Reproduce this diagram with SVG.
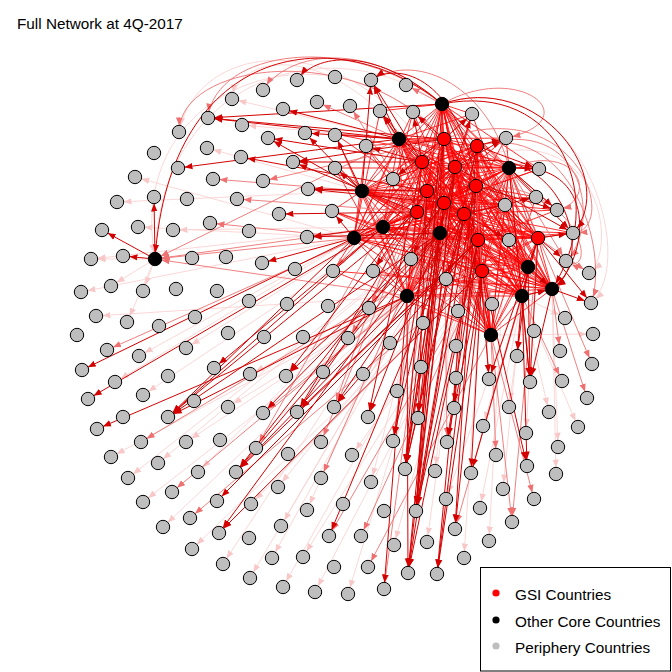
<svg xmlns="http://www.w3.org/2000/svg" width="672" height="672" viewBox="0 0 672 672">
<style>
.s{stroke:#D40000;stroke-width:1;fill:none;marker-end:url(#ms)}
.m{stroke:#EE7070;stroke-width:0.9;fill:none;marker-end:url(#mm)}
.f{stroke:#FAD2D2;stroke-width:0.9;fill:none;marker-end:url(#mf)}
.mesh{stroke:#FF0000;stroke-width:1;fill:none;stroke-opacity:0.8}
.p{fill:#BEBEBE;stroke:#000;stroke-width:1;r:6.7px}
.k{fill:#000;stroke:#000;stroke-width:1;r:6.7px}
.g{fill:#FF0000;stroke:#000;stroke-width:1;r:6.7px}
.t{font-family:"Liberation Sans",Arial,sans-serif;font-size:15.3px;fill:#000}
</style>
<defs>
<marker id="ms" viewBox="0 0 8 8" markerUnits="userSpaceOnUse" markerWidth="8" markerHeight="8" refX="14.5" refY="4" orient="auto"><path d="M0 0.8L8 4L0 7.2z" fill="#D40000"/></marker>
<marker id="mm" viewBox="0 0 8 8" markerUnits="userSpaceOnUse" markerWidth="8" markerHeight="8" refX="14.5" refY="4" orient="auto"><path d="M0 0.8L8 4L0 7.2z" fill="#EE7070"/></marker>
<marker id="mf" viewBox="0 0 8 8" markerUnits="userSpaceOnUse" markerWidth="8" markerHeight="8" refX="14.5" refY="4" orient="auto"><path d="M0 0.8L8 4L0 7.2z" fill="#F8C8C8"/></marker>
</defs>
<rect width="672" height="672" fill="#fff"/>
<text class="t" x="17" y="29">Full Network at 4Q-2017</text>
<g id="connectors">
<path class="f" d="M354 238L135 177"/><path class="f" d="M362 191L117 202"/><path class="f" d="M383 227L91 259"/><path class="f" d="M354 238L81 292"/><path class="f" d="M407 296L96 316"/><path class="f" d="M354 238L115 382"/><path class="f" d="M407 296L111 457"/><path class="f" d="M440 233L128 478"/><path class="f" d="M478 240L143 502"/><path class="f" d="M407 296L163 527"/><path class="f" d="M482 271L192 549"/><path class="f" d="M440 233L223 564"/><path class="f" d="M464 214L250 578"/><path class="f" d="M478 240L283 587"/><path class="f" d="M482 271L315 592"/><path class="f" d="M464 214L348 594"/><path class="f" d="M491 335L593 334"/><path class="f" d="M522 296L578 427"/><path class="f" d="M552 289L558 447"/><path class="f" d="M552 289L556 474"/><path class="f" d="M522 296L549 412"/><path class="f" d="M522 296L565 318"/><path class="f" d="M399 139L232 99"/><path class="f" d="M399 139L242 125"/><path class="f" d="M362 191L207 148"/><path class="f" d="M354 238L138 227"/><path class="f" d="M383 227L173 230"/><path class="f" d="M155 259L111 286"/><path class="f" d="M155 259L143 291"/><path class="f" d="M155 259L127 322"/><path class="f" d="M155 259L91 259"/><path class="f" d="M417 212L143 395"/><path class="f" d="M407 296L186 442"/><path class="f" d="M440 233L198 472"/><path class="f" d="M464 214L272 558"/><path class="f" d="M482 271L303 557"/><path class="f" d="M478 240L394 545"/><path class="f" d="M476 186L427 542"/><path class="f" d="M509 168L489 541"/><path class="f" d="M522 296L503 489"/><path class="f" d="M528 267L480 508"/><path class="f" d="M538 238L526 433"/><path class="f" d="M444 203L371 482"/><path class="f" d="M482 271L352 455"/><path class="f" d="M464 214L435 471"/><path class="f" d="M482 271L464 558"/><path class="f" d="M407 296L250 374"/><path class="f" d="M383 227L186 348"/><path class="f" d="M354 238L139 356"/><path class="f" d="M407 296L228 407"/><path class="f" d="M440 233L158 463"/><path class="f" d="M478 240L278 487"/><path class="f" d="M444 203L307 510"/><path class="f" d="M482 271L251 504"/><path class="f" d="M464 214L281 526"/><path class="f" d="M538 238L446 499"/><path class="f" d="M538 238L483 426"/><path class="f" d="M528 267L509 407"/><path class="f" d="M477 146C400 20 160 40 155 259"/><path class="f" d="M455 167C380 10 120 60 155 259"/><path class="f" d="M442 104C580 60 640 260 591 303"/><path class="f" d="M455 167C600 100 620 250 589 273"/><path class="f" d="M464 214C380 20 200 30 179 132"/><path class="f" d="M422 162C340 40 240 50 232 99"/>
<path class="mesh" d="M505 205L444 139 477 146 491 335 422 162 552 289 455 167 522 296 427 191 407 296 476 186 528 267 444 203 440 233 417 212 354 238 464 214 383 227 478 240 362 191 538 238 509 168 482 271 399 139 442 104 505 205 477 146 422 162 444 139 455 167 491 335 427 191 552 289 476 186 522 296 444 203 407 296 417 212 528 267 464 214 440 233 478 240 354 238 538 238 383 227 482 271 362 191 442 104 509 168 399 139 505 205 422 162 455 167 477 146 427 191 444 139 476 186 491 335 444 203 552 289 417 212 522 296 464 214 407 296 478 240 528 267 538 238 440 233 482 271 354 238 442 104 383 227 399 139 362 191 509 168 505 205 455 167 427 191 422 162 476 186 477 146 444 203 444 139 417 212 491 335 464 214 552 289 478 240 522 296 538 238 407 296 482 271 528 267 442 104 440 233 399 139 354 238 509 168 383 227 362 191 505 205 427 191 476 186 455 167 444 203 422 162 417 212 477 146 464 214 444 139 478 240 491 335 538 238 552 289 482 271 522 296 442 104 407 296 399 139 528 267 509 168 440 233 362 191 354 238 383 227 505 205 476 186 444 203 427 191 417 212 455 167 464 214 422 162 478 240 477 146 538 238 444 139 482 271 491 335 442 104 552 289 399 139 522 296 509 168 407 296 362 191 528 267 383 227 440 233 354 238 505 205"/>
<path class="mesh" d="M505 205L444 203 417 212 476 186 464 214 427 191 478 240 455 167 538 238 422 162 482 271 477 146 442 104 444 139 399 139 491 335 509 168 552 289 362 191 522 296 383 227 407 296 354 238 528 267 440 233 505 205 417 212 464 214 444 203 478 240 476 186 538 238 427 191 482 271 455 167 442 104 422 162 399 139 477 146 509 168 444 139 362 191 491 335 383 227 552 289 354 238 522 296 440 233 407 296 528 267 505 205 464 214 478 240 417 212 538 238 444 203 482 271 476 186 442 104 427 191 399 139 455 167 509 168 422 162 362 191 477 146 383 227 444 139 354 238 491 335 440 233 552 289 528 267 522 296 407 296 505 205 478 240 538 238 464 214 482 271 417 212 442 104 444 203 399 139 476 186 509 168 427 191 362 191 455 167 383 227 422 162 354 238 477 146 440 233 444 139 528 267 491 335 407 296 552 289 522 296 505 205 538 238 482 271 478 240 442 104 464 214 399 139 417 212 509 168 444 203 362 191 476 186 383 227 427 191 354 238 455 167 440 233 422 162 528 267 477 146 407 296 444 139 522 296 491 335 552 289 505 205 482 271 442 104 538 238 399 139 478 240 509 168 464 214 362 191 417 212 383 227 444 203 354 238 476 186 440 233 427 191 528 267 455 167 407 296 422 162 522 296 477 146 552 289 444 139 491 335 505 205"/>
<path class="mesh" d="M366 146L444 139 393 179 477 146 411 259 422 162 373 271 455 167 446 279 427 191 509 240 476 186 536 197 444 203 539 169 417 212 506 138 464 214 557 210 478 240 573 233 538 238 413 112 482 271 380 111 442 104 472 114 399 139 335 134 509 168 335 168 362 191 332 211 383 227 333 271 354 238 366 146 440 233 393 179 528 267 411 259 407 296 373 271 522 296 446 279 552 289 509 240 491 335 536 197 442 104 539 169 399 139 506 138 509 168 557 210 362 191 573 233 383 227 413 112 354 238 380 111 440 233 472 114 528 267 335 134 407 296 335 168 522 296 332 211 552 289 333 271 491 335 366 146"/>
<path class="m" d="M444 203L321 478"/><path class="m" d="M482 271L190 518"/><path class="m" d="M407 296L172 492"/><path class="m" d="M478 240L141 442"/><path class="m" d="M383 227L107 350"/><path class="m" d="M538 238L512 522"/><path class="m" d="M552 289L560 351"/><path class="m" d="M552 289L587 398"/><path class="m" d="M491 335L496 455"/><path class="m" d="M442 104L406 85"/><path class="m" d="M399 139L317 102"/><path class="m" d="M362 191L213 179"/><path class="m" d="M444 139L263 181"/><path class="m" d="M417 212L237 199"/><path class="m" d="M354 238L210 223"/><path class="m" d="M354 238L155 259"/><path class="m" d="M383 227L155 259"/><path class="m" d="M407 296L155 259"/><path class="m" d="M399 139L155 259"/><path class="m" d="M482 271L329 536"/><path class="m" d="M522 296L455 529"/><path class="m" d="M538 238L589 273"/><path class="m" d="M509 168L566 261"/><path class="m" d="M491 335L534 499"/><path class="m" d="M491 335L512 522"/><path class="m" d="M464 214L454 408"/><path class="m" d="M476 186L489 379"/><path class="m" d="M455 167L418 418"/><path class="m" d="M427 191L393 441"/><path class="m" d="M444 203L447 442"/><path class="m" d="M422 162L334 407"/><path class="m" d="M417 212L321 442"/><path class="m" d="M407 296L263 413"/><path class="m" d="M383 227L256 448"/><path class="m" d="M491 335L368 567"/><path class="m" d="M482 271L361 536"/><path class="m" d="M444 139L384 589"/><path class="m" d="M522 296L562 381"/><path class="m" d="M509 168L592 364"/><path class="m" d="M417 212L350 106"/><path class="m" d="M444 139L333 271"/><path class="m" d="M427 191L369 308"/><path class="m" d="M478 240L458 311"/><path class="m" d="M482 271L492 304"/><path class="m" d="M509 168L423 323"/><path class="m" d="M444 203L348 338"/><path class="m" d="M442 104C350 30 215 50 208 118"/><path class="m" d="M444 139C360 40 180 60 179 132"/><path class="m" d="M442 104C370 40 290 50 263 90"/><path class="m" d="M509 168C490 90 420 50 371 80"/><path class="m" d="M477 146C590 110 600 230 566 261"/><path class="m" d="M444 139C580 90 620 230 573 233"/><path class="m" d="M477 146C570 120 610 250 591 303"/><path class="m" d="M509 168C580 140 600 200 557 210"/><path class="m" d="M476 186C580 180 600 280 566 261"/><path class="m" d="M442 104C520 60 590 120 506 138"/>
<path class="s" d="M444 139L208 118"/><path class="s" d="M399 139L208 118"/><path class="s" d="M442 104L208 118"/><path class="s" d="M422 162L268 138"/><path class="s" d="M362 191L268 138"/><path class="s" d="M427 191L241 157"/><path class="s" d="M444 139L293 162"/><path class="s" d="M422 162L293 162"/><path class="s" d="M417 212L293 162"/><path class="s" d="M399 139L178 168"/><path class="s" d="M427 191L308 189"/><path class="s" d="M444 203L308 189"/><path class="s" d="M362 191L308 189"/><path class="s" d="M417 212L279 214"/><path class="s" d="M440 233L307 237"/><path class="s" d="M383 227L307 237"/><path class="s" d="M354 238L262 263"/><path class="s" d="M155 259L102 230"/><path class="s" d="M155 259L123 256"/><path class="s" d="M155 259L154 197"/><path class="s" d="M354 238L82 370"/><path class="s" d="M383 227L88 399"/><path class="s" d="M407 296L97 429"/><path class="s" d="M417 212L168 417"/><path class="s" d="M383 227L168 417"/><path class="s" d="M440 233L168 417"/><path class="s" d="M407 296L168 417"/><path class="s" d="M354 238L168 417"/><path class="s" d="M383 227L214 368"/><path class="s" d="M427 191L286 376"/><path class="s" d="M440 233L286 376"/><path class="s" d="M440 233L263 413"/><path class="s" d="M478 240L297 412"/><path class="s" d="M444 203L297 412"/><path class="s" d="M417 212L297 412"/><path class="s" d="M464 214L334 407"/><path class="s" d="M478 240L334 407"/><path class="s" d="M440 233L236 472"/><path class="s" d="M444 203L236 472"/><path class="s" d="M478 240L236 472"/><path class="s" d="M407 296L236 472"/><path class="s" d="M478 240L217 501"/><path class="s" d="M482 271L219 533"/><path class="s" d="M440 233L219 533"/><path class="s" d="M464 214L329 536"/><path class="s" d="M422 162L368 417"/><path class="s" d="M440 233L368 417"/><path class="s" d="M444 139L393 441"/><path class="s" d="M455 167L393 441"/><path class="s" d="M444 139L405 469"/><path class="s" d="M477 146L405 469"/><path class="s" d="M455 167L405 469"/><path class="s" d="M444 203L405 469"/><path class="s" d="M464 214L405 469"/><path class="s" d="M440 233L405 469"/><path class="s" d="M427 191L405 469"/><path class="s" d="M478 240L447 442"/><path class="s" d="M482 271L447 442"/><path class="s" d="M482 271L471 473"/><path class="s" d="M538 238L471 473"/><path class="s" d="M444 139L416 511"/><path class="s" d="M455 167L416 511"/><path class="s" d="M476 186L416 511"/><path class="s" d="M464 214L416 511"/><path class="s" d="M478 240L416 511"/><path class="s" d="M442 104L416 511"/><path class="s" d="M444 203L416 511"/><path class="s" d="M482 271L455 529"/><path class="s" d="M476 186L455 529"/><path class="s" d="M455 167L408 573"/><path class="s" d="M464 214L408 573"/><path class="s" d="M440 233L408 573"/><path class="s" d="M407 296L408 573"/><path class="s" d="M478 240L408 573"/><path class="s" d="M478 240L437 574"/><path class="s" d="M482 271L437 574"/><path class="s" d="M477 146L437 574"/><path class="s" d="M427 191L418 418"/><path class="s" d="M444 203L418 418"/><path class="s" d="M538 238L489 379"/><path class="s" d="M478 240L489 379"/><path class="s" d="M522 296L530 382"/><path class="s" d="M552 289L530 382"/><path class="s" d="M528 267L530 382"/><path class="s" d="M538 238L530 382"/><path class="s" d="M509 168L530 382"/><path class="s" d="M522 296L527 466"/><path class="s" d="M482 271L527 466"/><path class="s" d="M522 296L517 356"/><path class="s" d="M528 267L517 356"/><path class="s" d="M476 186L454 408"/><path class="s" d="M509 168L573 233"/><path class="s" d="M538 238L573 233"/><path class="s" d="M455 167L573 233"/><path class="s" d="M538 238L566 261"/><path class="s" d="M509 168L557 210"/><path class="s" d="M476 186L557 210"/><path class="s" d="M509 168L539 169"/><path class="s" d="M477 146L539 169"/><path class="s" d="M477 146L506 138"/><path class="s" d="M455 167L506 138"/><path class="s" d="M552 289L591 303"/><path class="s" d="M538 238L591 303"/><path class="s" d="M444 139L472 114"/><path class="s" d="M455 167L472 114"/><path class="s" d="M444 139L413 112"/><path class="s" d="M422 162L413 112"/><path class="s" d="M399 139L380 111"/><path class="s" d="M422 162L380 111"/><path class="s" d="M399 139L371 80"/><path class="s" d="M362 191L371 80"/><path class="s" d="M422 162L371 80"/><path class="s" d="M399 139L283 109"/><path class="s" d="M362 191L305 133"/><path class="s" d="M399 139L305 133"/><path class="s" d="M362 191L335 168"/><path class="s" d="M354 238L332 211"/><path class="s" d="M362 191L335 135"/><path class="s" d="M407 296L384 589"/><path class="s" d="M528 267L552 289"/><path class="s" d="M522 296L552 289"/><path class="s" d="M444 139L393 179"/><path class="s" d="M422 162L366 146"/><path class="s" d="M455 167L411 259"/><path class="s" d="M476 186L446 279"/><path class="s" d="M427 191L373 271"/><path class="s" d="M444 203L509 240"/><path class="s" d="M464 214L536 197"/><path class="s" d="M442 104C340 20 170 40 155 259"/><path class="s" d="M442 104C380 50 320 50 297 80"/><path class="s" d="M476 186C460 80 400 60 371 80"/><path class="s" d="M442 104C560 80 610 200 552 289"/><path class="s" d="M509 168C600 160 590 260 552 289"/><path class="s" d="M442 104C540 70 620 180 573 233"/><path class="s" d="M455 167C560 130 600 260 552 289"/>
</g>
<g id="nodes">
<g id="n1"><circle class="p" cx="297" cy="80"/></g><g id="n2"><circle class="p" cx="335" cy="77"/></g><g id="n3"><circle class="p" cx="263" cy="90"/></g><g id="n4"><circle class="p" cx="232" cy="99"/></g><g id="n5"><circle class="p" cx="317" cy="102"/></g><g id="n6"><circle class="p" cx="283" cy="109"/></g><g id="n7"><circle class="p" cx="208" cy="118"/></g><g id="n8"><circle class="p" cx="242" cy="125"/></g><g id="n9"><circle class="p" cx="179" cy="132"/></g><g id="n10"><circle class="p" cx="305" cy="133"/></g>
<g id="n11"><circle class="p" cx="335" cy="135"/></g><g id="n12"><circle class="p" cx="268" cy="138"/></g><g id="n13"><circle class="p" cx="207" cy="148"/></g><g id="n14"><circle class="p" cx="154" cy="153"/></g><g id="n15"><circle class="p" cx="241" cy="157"/></g><g id="n16"><circle class="p" cx="293" cy="162"/></g><g id="n17"><circle class="p" cx="178" cy="168"/></g><g id="n18"><circle class="p" cx="335" cy="168"/></g><g id="n19"><circle class="p" cx="135" cy="177"/></g><g id="n20"><circle class="p" cx="213" cy="179"/></g>
<g id="n21"><circle class="p" cx="263" cy="181"/></g><g id="n22"><circle class="p" cx="308" cy="189"/></g><g id="n23"><circle class="p" cx="117" cy="202"/></g><g id="n24"><circle class="p" cx="154" cy="197"/></g><g id="n25"><circle class="p" cx="187" cy="199"/></g><g id="n26"><circle class="p" cx="237" cy="199"/></g><g id="n27"><circle class="p" cx="332" cy="211"/></g><g id="n28"><circle class="p" cx="279" cy="214"/></g><g id="n29"><circle class="p" cx="102" cy="230"/></g><g id="n30"><circle class="p" cx="138" cy="227"/></g>
<g id="n31"><circle class="p" cx="173" cy="230"/></g><g id="n32"><circle class="p" cx="210" cy="223"/></g><g id="n33"><circle class="p" cx="249" cy="231"/></g><g id="n34"><circle class="p" cx="307" cy="237"/></g><g id="n35"><circle class="p" cx="91" cy="259"/></g><g id="n36"><circle class="p" cx="123" cy="256"/></g><g id="n37"><circle class="p" cx="192" cy="258"/></g><g id="n38"><circle class="p" cx="226" cy="257"/></g><g id="n39"><circle class="p" cx="262" cy="263"/></g><g id="n40"><circle class="p" cx="295" cy="269"/></g>
<g id="n41"><circle class="p" cx="333" cy="271"/></g><g id="n42"><circle class="p" cx="81" cy="292"/></g><g id="n43"><circle class="p" cx="111" cy="286"/></g><g id="n44"><circle class="p" cx="143" cy="291"/></g><g id="n45"><circle class="p" cx="176" cy="289"/></g><g id="n46"><circle class="p" cx="217" cy="291"/></g><g id="n47"><circle class="p" cx="249" cy="301"/></g><g id="n48"><circle class="p" cx="287" cy="304"/></g><g id="n49"><circle class="p" cx="328" cy="306"/></g><g id="n50"><circle class="p" cx="96" cy="316"/></g>
<g id="n51"><circle class="p" cx="127" cy="322"/></g><g id="n52"><circle class="p" cx="159" cy="326"/></g><g id="n53"><circle class="p" cx="195" cy="317"/></g><g id="n54"><circle class="p" cx="77" cy="335"/></g><g id="n55"><circle class="p" cx="228" cy="333"/></g><g id="n56"><circle class="p" cx="264" cy="337"/></g><g id="n57"><circle class="p" cx="303" cy="337"/></g><g id="n58"><circle class="p" cx="371" cy="80"/></g><g id="n59"><circle class="p" cx="406" cy="85"/></g><g id="n60"><circle class="p" cx="350" cy="106"/></g>
<g id="n61"><circle class="p" cx="380" cy="111"/></g><g id="n62"><circle class="p" cx="413" cy="112"/></g><g id="n63"><circle class="p" cx="472" cy="114"/></g><g id="n64"><circle class="p" cx="366" cy="146"/></g><g id="n65"><circle class="p" cx="506" cy="138"/></g><g id="n66"><circle class="p" cx="539" cy="169"/></g><g id="n67"><circle class="p" cx="393" cy="179"/></g><g id="n68"><circle class="p" cx="536" cy="197"/></g><g id="n69"><circle class="p" cx="505" cy="205"/></g><g id="n70"><circle class="p" cx="557" cy="210"/></g>
<g id="n71"><circle class="p" cx="509" cy="240"/></g><g id="n72"><circle class="p" cx="573" cy="233"/></g><g id="n73"><circle class="p" cx="411" cy="259"/></g><g id="n74"><circle class="p" cx="373" cy="271"/></g><g id="n75"><circle class="p" cx="566" cy="261"/></g><g id="n76"><circle class="p" cx="589" cy="273"/></g><g id="n77"><circle class="p" cx="446" cy="279"/></g><g id="n78"><circle class="p" cx="369" cy="308"/></g><g id="n79"><circle class="p" cx="458" cy="311"/></g><g id="n80"><circle class="p" cx="492" cy="304"/></g>
<g id="n81"><circle class="p" cx="591" cy="303"/></g><g id="n82"><circle class="p" cx="423" cy="323"/></g><g id="n83"><circle class="p" cx="565" cy="318"/></g><g id="n84"><circle class="p" cx="534" cy="331"/></g><g id="n85"><circle class="p" cx="348" cy="338"/></g><g id="n86"><circle class="p" cx="593" cy="334"/></g><g id="n87"><circle class="p" cx="107" cy="350"/></g><g id="n88"><circle class="p" cx="186" cy="348"/></g><g id="n89"><circle class="p" cx="139" cy="356"/></g><g id="n90"><circle class="p" cx="82" cy="370"/></g>
<g id="n91"><circle class="p" cx="214" cy="368"/></g><g id="n92"><circle class="p" cx="250" cy="374"/></g><g id="n93"><circle class="p" cx="168" cy="376"/></g><g id="n94"><circle class="p" cx="286" cy="376"/></g><g id="n95"><circle class="p" cx="323" cy="372"/></g><g id="n96"><circle class="p" cx="115" cy="382"/></g><g id="n97"><circle class="p" cx="88" cy="399"/></g><g id="n98"><circle class="p" cx="143" cy="395"/></g><g id="n99"><circle class="p" cx="194" cy="401"/></g><g id="n100"><circle class="p" cx="228" cy="407"/></g>
<g id="n101"><circle class="p" cx="263" cy="413"/></g><g id="n102"><circle class="p" cx="297" cy="412"/></g><g id="n103"><circle class="p" cx="334" cy="407"/></g><g id="n104"><circle class="p" cx="123" cy="417"/></g><g id="n105"><circle class="p" cx="168" cy="417"/></g><g id="n106"><circle class="p" cx="97" cy="429"/></g><g id="n107"><circle class="p" cx="141" cy="442"/></g><g id="n108"><circle class="p" cx="186" cy="442"/></g><g id="n109"><circle class="p" cx="220" cy="440"/></g><g id="n110"><circle class="p" cx="321" cy="442"/></g>
<g id="n111"><circle class="p" cx="111" cy="457"/></g><g id="n112"><circle class="p" cx="256" cy="448"/></g><g id="n113"><circle class="p" cx="288" cy="454"/></g><g id="n114"><circle class="p" cx="158" cy="463"/></g><g id="n115"><circle class="p" cx="198" cy="472"/></g><g id="n116"><circle class="p" cx="236" cy="472"/></g><g id="n117"><circle class="p" cx="321" cy="478"/></g><g id="n118"><circle class="p" cx="128" cy="478"/></g><g id="n119"><circle class="p" cx="278" cy="487"/></g><g id="n120"><circle class="p" cx="172" cy="492"/></g>
<g id="n121"><circle class="p" cx="217" cy="501"/></g><g id="n122"><circle class="p" cx="251" cy="504"/></g><g id="n123"><circle class="p" cx="143" cy="502"/></g><g id="n124"><circle class="p" cx="307" cy="510"/></g><g id="n125"><circle class="p" cx="343" cy="504"/></g><g id="n126"><circle class="p" cx="190" cy="518"/></g><g id="n127"><circle class="p" cx="163" cy="527"/></g><g id="n128"><circle class="p" cx="281" cy="526"/></g><g id="n129"><circle class="p" cx="219" cy="533"/></g><g id="n130"><circle class="p" cx="249" cy="538"/></g>
<g id="n131"><circle class="p" cx="329" cy="536"/></g><g id="n132"><circle class="p" cx="192" cy="549"/></g><g id="n133"><circle class="p" cx="272" cy="558"/></g><g id="n134"><circle class="p" cx="303" cy="557"/></g><g id="n135"><circle class="p" cx="223" cy="564"/></g><g id="n136"><circle class="p" cx="334" cy="567"/></g><g id="n137"><circle class="p" cx="250" cy="578"/></g><g id="n138"><circle class="p" cx="283" cy="587"/></g><g id="n139"><circle class="p" cx="315" cy="592"/></g><g id="n140"><circle class="p" cx="390" cy="343"/></g>
<g id="n141"><circle class="p" cx="456" cy="346"/></g><g id="n142"><circle class="p" cx="560" cy="351"/></g><g id="n143"><circle class="p" cx="517" cy="356"/></g><g id="n144"><circle class="p" cx="421" cy="367"/></g><g id="n145"><circle class="p" cx="363" cy="374"/></g><g id="n146"><circle class="p" cx="456" cy="378"/></g><g id="n147"><circle class="p" cx="489" cy="379"/></g><g id="n148"><circle class="p" cx="530" cy="382"/></g><g id="n149"><circle class="p" cx="562" cy="381"/></g><g id="n150"><circle class="p" cx="592" cy="364"/></g>
<g id="n151"><circle class="p" cx="397" cy="391"/></g><g id="n152"><circle class="p" cx="454" cy="408"/></g><g id="n153"><circle class="p" cx="509" cy="407"/></g><g id="n154"><circle class="p" cx="587" cy="398"/></g><g id="n155"><circle class="p" cx="549" cy="412"/></g><g id="n156"><circle class="p" cx="368" cy="417"/></g><g id="n157"><circle class="p" cx="418" cy="418"/></g><g id="n158"><circle class="p" cx="483" cy="426"/></g><g id="n159"><circle class="p" cx="578" cy="427"/></g><g id="n160"><circle class="p" cx="526" cy="433"/></g>
<g id="n161"><circle class="p" cx="393" cy="441"/></g><g id="n162"><circle class="p" cx="447" cy="442"/></g><g id="n163"><circle class="p" cx="558" cy="447"/></g><g id="n164"><circle class="p" cx="352" cy="455"/></g><g id="n165"><circle class="p" cx="496" cy="455"/></g><g id="n166"><circle class="p" cx="527" cy="466"/></g><g id="n167"><circle class="p" cx="405" cy="469"/></g><g id="n168"><circle class="p" cx="435" cy="471"/></g><g id="n169"><circle class="p" cx="471" cy="473"/></g><g id="n170"><circle class="p" cx="556" cy="474"/></g>
<g id="n171"><circle class="p" cx="371" cy="482"/></g><g id="n172"><circle class="p" cx="503" cy="489"/></g><g id="n173"><circle class="p" cx="534" cy="499"/></g><g id="n174"><circle class="p" cx="446" cy="499"/></g><g id="n175"><circle class="p" cx="384" cy="511"/></g><g id="n176"><circle class="p" cx="416" cy="511"/></g><g id="n177"><circle class="p" cx="480" cy="508"/></g><g id="n178"><circle class="p" cx="512" cy="522"/></g><g id="n179"><circle class="p" cx="455" cy="529"/></g><g id="n180"><circle class="p" cx="361" cy="536"/></g>
<g id="n181"><circle class="p" cx="394" cy="545"/></g><g id="n182"><circle class="p" cx="427" cy="542"/></g><g id="n183"><circle class="p" cx="489" cy="541"/></g><g id="n184"><circle class="p" cx="464" cy="558"/></g><g id="n185"><circle class="p" cx="368" cy="567"/></g><g id="n186"><circle class="p" cx="408" cy="573"/></g><g id="n187"><circle class="p" cx="437" cy="574"/></g><g id="n188"><circle class="p" cx="348" cy="594"/></g><g id="n189"><circle class="p" cx="384" cy="589"/></g>
<g id="n190"><circle class="g" cx="444" cy="139"/></g><g id="n191"><circle class="g" cx="477" cy="146"/></g><g id="n192"><circle class="g" cx="422" cy="162"/></g><g id="n193"><circle class="g" cx="455" cy="167"/></g><g id="n194"><circle class="g" cx="427" cy="191"/></g><g id="n195"><circle class="g" cx="476" cy="186"/></g><g id="n196"><circle class="g" cx="444" cy="203"/></g><g id="n197"><circle class="g" cx="417" cy="212"/></g><g id="n198"><circle class="g" cx="464" cy="214"/></g><g id="n199"><circle class="g" cx="478" cy="240"/></g><g id="n200"><circle class="g" cx="538" cy="238"/></g><g id="n201"><circle class="g" cx="482" cy="271"/></g>
<g id="n202"><circle class="k" cx="442" cy="104"/></g><g id="n203"><circle class="k" cx="399" cy="139"/></g><g id="n204"><circle class="k" cx="509" cy="168"/></g><g id="n205"><circle class="k" cx="362" cy="191"/></g><g id="n206"><circle class="k" cx="383" cy="227"/></g><g id="n207"><circle class="k" cx="354" cy="238"/></g><g id="n208"><circle class="k" cx="440" cy="233"/></g><g id="n209"><circle class="k" cx="528" cy="267"/></g><g id="n210"><circle class="k" cx="407" cy="296"/></g><g id="n211"><circle class="k" cx="522" cy="296"/></g><g id="n212"><circle class="k" cx="552" cy="289"/></g><g id="n213"><circle class="k" cx="491" cy="335"/></g><g id="n214"><circle class="k" cx="155" cy="259"/></g>
</g>
<g id="legend">
<rect x="480.5" y="567.5" width="190" height="103.5" fill="#fff" stroke="#000" stroke-width="1"/>
<circle cx="496" cy="593" r="3.6" fill="#FF0000"/>
<circle cx="496" cy="620" r="3.6" fill="#000"/>
<circle cx="496" cy="646" r="3.6" fill="#BEBEBE"/>
<text class="t" x="515" y="600">GSI Countries</text>
<text class="t" x="515" y="627">Other Core Countries</text>
<text class="t" x="515" y="653">Periphery Countries</text>
</g>
</svg>
